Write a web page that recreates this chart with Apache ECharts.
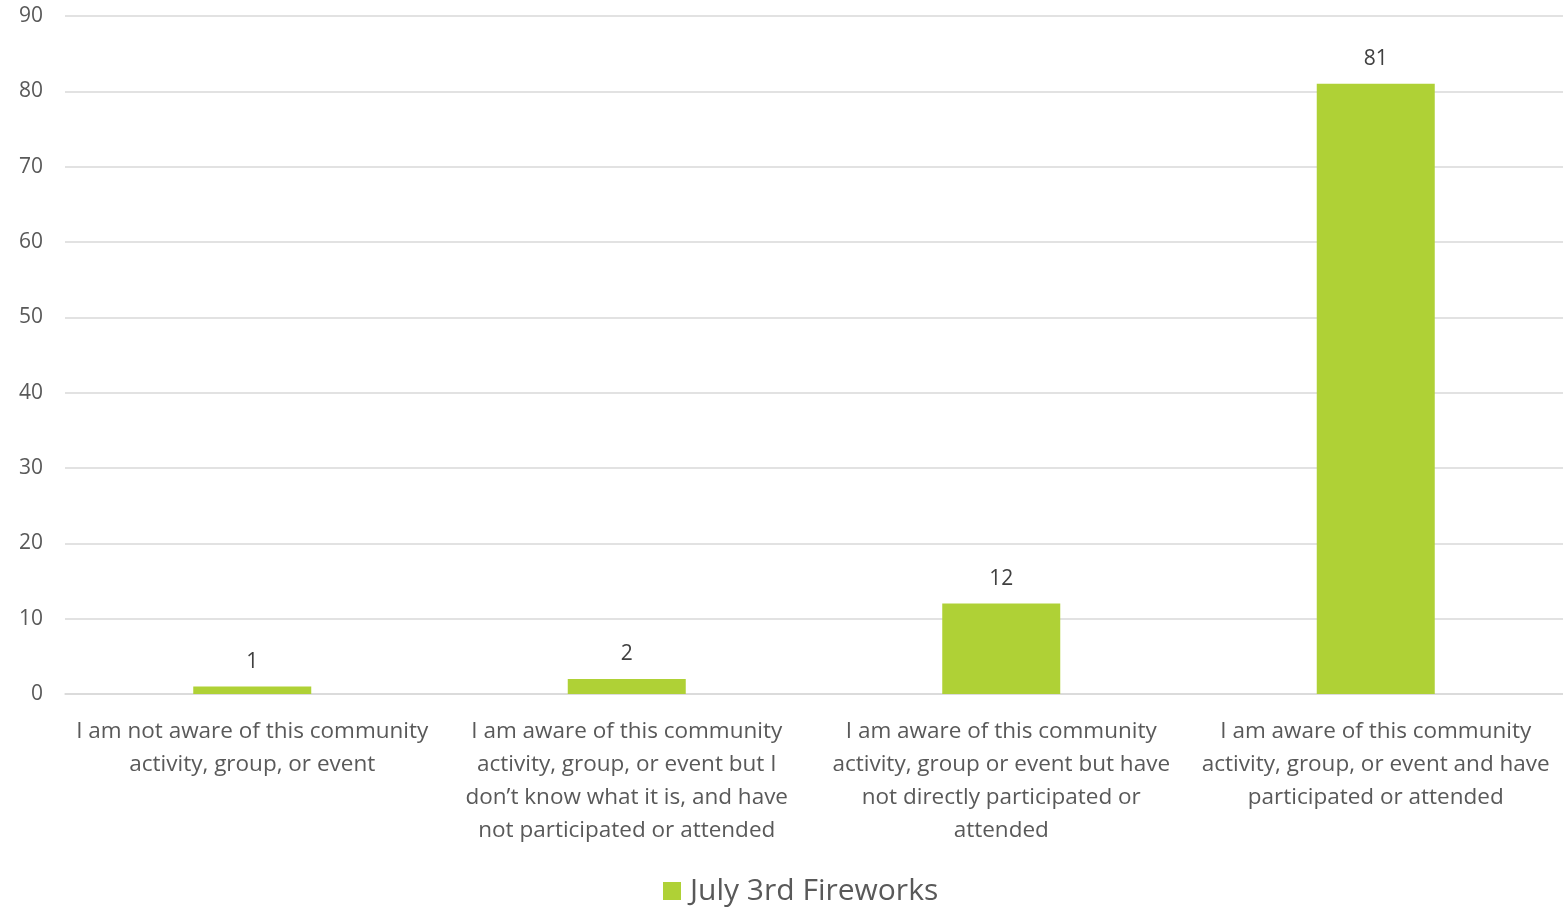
<!DOCTYPE html>
<html><head><meta charset="utf-8">
<script src="https://cdn.jsdelivr.net/npm/echarts@6/dist/echarts.min.js"></script>
<style>html,body{margin:0;padding:0;background:#fff}#c{width:1563px;height:909px}</style>
</head><body><div id="c"></div>
<script>
const categories = [
  "I am not aware of this community\nactivity, group, or event",
  "I am aware of this community\nactivity, group, or event but I\ndon\u2019t know what it is, and have\nnot participated or attended",
  "I am aware of this community\nactivity, group or event but have\nnot directly participated or\nattended",
  "I am aware of this community\nactivity, group, or event and have\nparticipated or attended"
];
const seriesName = "July 3rd Fireworks";
const values = [1, 2, 12, 81];
const yTicks = { min: 0, max: 90, interval: 10 };

const chart = echarts.init(document.getElementById('c'), null, {renderer: 'canvas'});
chart.setOption({
  animation: false,
  textStyle: { fontFamily: 'Open Sans' },
  grid: { left: 65, width: 1502, top: 16, bottom: 215, containLabel: false },
  legend: {
    bottom: -2, left: 658,
    itemWidth: 18, itemHeight: 18, itemGap: 9,
    icon: 'rect',
    textStyle: { fontSize: 30, color: '#595959', fontFamily: 'Open Sans', padding: [0, 0, 0, 4] },
    data: [seriesName]
  },
  xAxis: {
    type: 'category', data: categories,
    axisLine: { show: true, lineStyle: { color: '#D9D9D9', width: 1.5 } },
    axisTick: { show: false },
    axisLabel: { color: '#595959', fontSize: 22.5, lineHeight: 33, margin: 21, interval: 0, fontFamily: 'Open Sans' }
  },
  yAxis: {
    type: 'value', min: yTicks.min, max: yTicks.max, interval: yTicks.interval,
    axisLine: { show: false }, axisTick: { show: false },
    splitLine: { lineStyle: { color: '#D9D9D9', width: 1.5 } },
    axisLabel: { color: '#595959', fontSize: 21, margin: 22, fontFamily: 'Open Sans' }
  },
  series: [{
    name: seriesName, type: 'bar', data: values,
    barWidth: 118,
    itemStyle: { color: '#AFD136' },
    label: { show: true, position: 'top', distance: 14, color: '#404040', fontSize: 21, fontFamily: 'Open Sans' }
  }]
});
</script></body></html>
